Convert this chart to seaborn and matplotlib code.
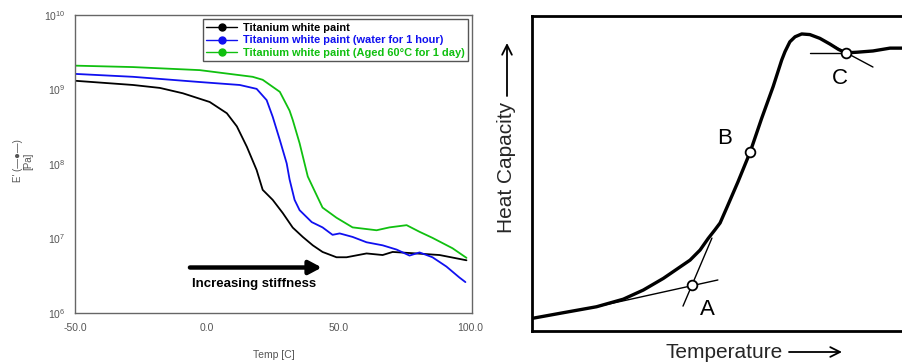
import matplotlib
matplotlib.use("Agg")
import matplotlib.pyplot as plt
import seaborn as sns
import numpy as np
import pandas as pd
from matplotlib.lines import Line2D
from matplotlib.ticker import FixedLocator, MultipleLocator, LogLocator, NullFormatter

# ---------------- DMA storage modulus data (Pa vs. temperature in C) ----------------
temp_plain = [-50, -28, -17.8, -9.1, 1.1, 7.6, 11.4, 15.2, 18.9, 21.2, 25, 28.8, 32.6,
              36.4, 40.2, 43.9, 49.2, 53, 60.6, 66.7, 70.5, 79.5, 88.3, 98.5]
mod_plain = [1.31e9, 1.15e9, 1.05e9, 8.9e8, 6.8e8, 4.8e8, 3.2e8, 1.7e8, 8.3e7, 4.5e7, 3.3e7,
             2.2e7, 1.4e7, 1.05e7, 8.1e6, 6.6e6, 5.6e6, 5.6e6, 6.3e6, 6.0e6, 6.6e6, 6.3e6,
             6.0e6, 5.1e6]

temp_water = [-50, -28, -2.7, 12.5, 18.9, 22.7, 25, 27.7, 30.3, 31.4, 33.3, 35.2, 39.8, 43.9,
              47.7, 50.4, 55.3, 60.6, 66.7, 72, 76.9, 80.7, 85.6, 90.9, 95.8, 98.1]
mod_water = [1.62e9, 1.48e9, 1.26e9, 1.15e9, 1.02e9, 7.2e8, 4.3e8, 2.1e8, 1.02e8, 6.2e7, 3.3e7,
             2.4e7, 1.66e7, 1.41e7, 1.12e7, 1.17e7, 1.05e7, 8.9e6, 8.1e6, 7.1e6, 5.9e6, 6.5e6,
             5.6e6, 4.2e6, 3.0e6, 2.6e6]

temp_aged = [-50, -28, -2.7, 17.4, 21.2, 27.7, 31.4, 32.6, 35.2, 38.3, 40.2, 43.9, 49.2, 55.3,
             64.4, 69.3, 75.8, 80.7, 85.6, 93.2, 98.5]
mod_aged = [2.09e9, 2.0e9, 1.82e9, 1.48e9, 1.35e9, 9.3e8, 5.2e8, 3.9e8, 1.9e8, 6.8e7, 4.9e7,
            2.6e7, 1.9e7, 1.41e7, 1.29e7, 1.41e7, 1.51e7, 1.23e7, 1.02e7, 7.4e6, 5.5e6]

series_labels = ["Titanium white paint",
                 "Titanium white paint (water for 1 hour)",
                 "Titanium white paint (Aged 60°C for 1 day)"]
series_colors = ["#000000", "#1010f0", "#10c010"]

temp_ticks = [-50, 0, 50, 100]
temp_tick_labels = ["-50.0", "0.0", "50.0", "100.0"]

# ---------------- DSC schematic: heat capacity vs. temperature (arbitrary units) -------
cp_temp = [0, 8.4, 17.4, 24.6, 30.0, 35.4, 39.0, 42.6, 45.3, 47.5, 49.3, 50.7, 52.6, 55.5,
           58.8, 61.9, 65.0, 67.3, 68.2, 69.5, 70.9, 72.7, 74.9, 77.6, 80.3, 82.6, 84.6,
           87.6, 91.9, 96.5, 100]
cp_value = [4.0, 5.8, 7.7, 10.1, 13.0, 16.7, 19.6, 22.5, 25.7, 29.4, 32.1, 34.3, 39.4, 47.3,
            56.8, 67.5, 77.6, 86.0, 88.7, 91.8, 93.4, 94.3, 94.1, 92.9, 91.1, 89.4, 88.3,
            88.5, 88.9, 89.8, 89.8]

# construction lines: (x0, y0, x1, y1)
tangent_lines = [(17.4, 7.7, 50.1, 16.2),    # glass baseline
                 (40.7, 7.9, 48.5, 29.5),    # steep tangent at onset
                 (74.9, 88.4, 84.6, 88.4),   # rubbery baseline
                 (80.3, 91.1, 91.9, 83.8)]   # tangent at the end
point_names = ["A", "B", "C"]
point_x = [43.1, 58.8, 84.6]
point_y = [14.5, 56.8, 88.3]
label_x = [47.4, 52.0, 83.0]
label_y = [6.7, 61.0, 80.3]

# ---------------- styling ----------------
sns.set_style("white")
plt.rcParams["font.family"] = ["Liberation Sans", "DejaVu Sans"]
plt.rcParams["mathtext.fontset"] = "custom"
plt.rcParams["mathtext.rm"] = "Liberation Sans"

fig = plt.figure(figsize=(9.03, 3.64), dpi=100)
W, H = 903, 364
ax1 = fig.add_axes([75 / W, 51 / H, 397 / W, 298 / H])
ax2 = fig.add_axes([532 / W, 33 / H, 371 / W, 315 / H])

# ---- left: DMA curves ----
frames = [
    pd.DataFrame({"temp": temp_plain, "mod": mod_plain}),
    pd.DataFrame({"temp": temp_water, "mod": mod_water}),
    pd.DataFrame({"temp": temp_aged, "mod": mod_aged}),
]
for df, col in zip(frames, series_colors):
    sns.lineplot(data=df, x="temp", y="mod", color=col, lw=1.3, sort=False,
                 estimator=None, ax=ax1, solid_joinstyle="round")

ax1.set_yscale("log")
ax1.set_ylim(1e6, 1e10)
ax1.set_xlim(-50, 100.6)
ax1.xaxis.set_major_locator(FixedLocator(temp_ticks))
ax1.set_xticklabels(temp_tick_labels)
ax1.xaxis.set_minor_locator(MultipleLocator(10))
ax1.yaxis.set_major_locator(LogLocator(base=10, numticks=10))
ax1.yaxis.set_minor_locator(LogLocator(base=10, subs=np.arange(2, 10), numticks=20))
ax1.yaxis.set_minor_formatter(NullFormatter())
ax1.tick_params(which="major", direction="in", length=4, width=0.8, color="#666666",
                labelcolor="#555555", labelsize=7.5, pad=7)
ax1.tick_params(which="minor", direction="in", length=2, width=0.6, color="#666666")
for sp in ax1.spines.values():
    sp.set_color("#666666")
    sp.set_linewidth(1.0)

ax1.set_xlabel("Temp [C]", fontsize=7.5, color="#555555")
ax1.xaxis.set_label_coords(0.5, -0.125)
ax1.set_ylabel("E' (—●—)\n[Pa]", fontsize=7, color="#555555", linespacing=1.1)
ax1.yaxis.set_label_coords(-0.105, 0.51)

handles = [Line2D([], [], color=c, lw=1.0, marker="o", ms=5) for c in series_colors]
leg = ax1.legend(handles, series_labels, loc="upper right",
                 prop={"weight": "bold", "size": 7.9}, frameon=True, fancybox=False,
                 edgecolor="#555555", framealpha=1, borderaxespad=0.4,
                 handlelength=2.8, labelspacing=0.25, borderpad=0.3, handletextpad=0.5,
                 labelcolor=series_colors, numpoints=1)
leg.get_frame().set_linewidth(1.0)

ax1.annotate("", xy=(43.6, 4.08e6), xytext=(-6.4, 4.08e6),
             arrowprops=dict(arrowstyle="-|>,head_length=0.75,head_width=0.4",
                             lw=3.2, color="black", shrinkA=0, shrinkB=0,
                             mutation_scale=10))
ax1.text(17.8, 2.45e6, "Increasing stiffness", fontsize=9.5, fontweight="bold",
         ha="center", va="center", color="black")

# ---- right: DSC schematic ----
sns.lineplot(x=cp_temp, y=cp_value, sort=False, estimator=None, color="black", lw=2.4,
             ax=ax2, solid_joinstyle="round", solid_capstyle="round")
for x0, y0, x1, y1 in tangent_lines:
    ax2.plot([x0, x1], [y0, y1], color="black", lw=1.0)
ax2.plot(point_x, point_y, ls="none", marker="o", ms=7, mfc="white", mec="black",
         mew=1.3, zorder=5)
for name, lx, ly in zip(point_names, label_x, label_y):
    ax2.text(lx, ly, name, fontsize=16, ha="center", va="center", color="black")

ax2.set_xlim(0, 100)
ax2.set_ylim(0, 100)
ax2.set_xticks([74.4])
ax2.set_xticklabels([])
ax2.set_yticks([])
ax2.tick_params(axis="x", direction="in", length=3, width=1, color="#999999")
for name, sp in ax2.spines.items():
    sp.set_color("black")
    sp.set_linewidth(2.0)
ax2.spines["right"].set_visible(False)
ax2.set_xlabel("")
ax2.set_ylabel("")

fig.text(724 / W, 12 / H, "Temperature", fontsize=15, ha="center", va="center")
ax2.annotate("", xy=(842, 12), xytext=(789, 12), xycoords="figure pixels",
             textcoords="figure pixels",
             arrowprops=dict(arrowstyle="->,head_length=0.7,head_width=0.35", lw=1.3,
                             color="black", shrinkA=0, shrinkB=0), annotation_clip=False)
fig.text(507 / W, 197 / H, "Heat Capacity", fontsize=15, rotation=90, ha="center",
         va="center")
ax2.annotate("", xy=(507, 321), xytext=(507, 268), xycoords="figure pixels",
             textcoords="figure pixels",
             arrowprops=dict(arrowstyle="->,head_length=0.7,head_width=0.35", lw=1.3,
                             color="black", shrinkA=0, shrinkB=0), annotation_clip=False)

fig.savefig("out.png", dpi=100, facecolor="white")
